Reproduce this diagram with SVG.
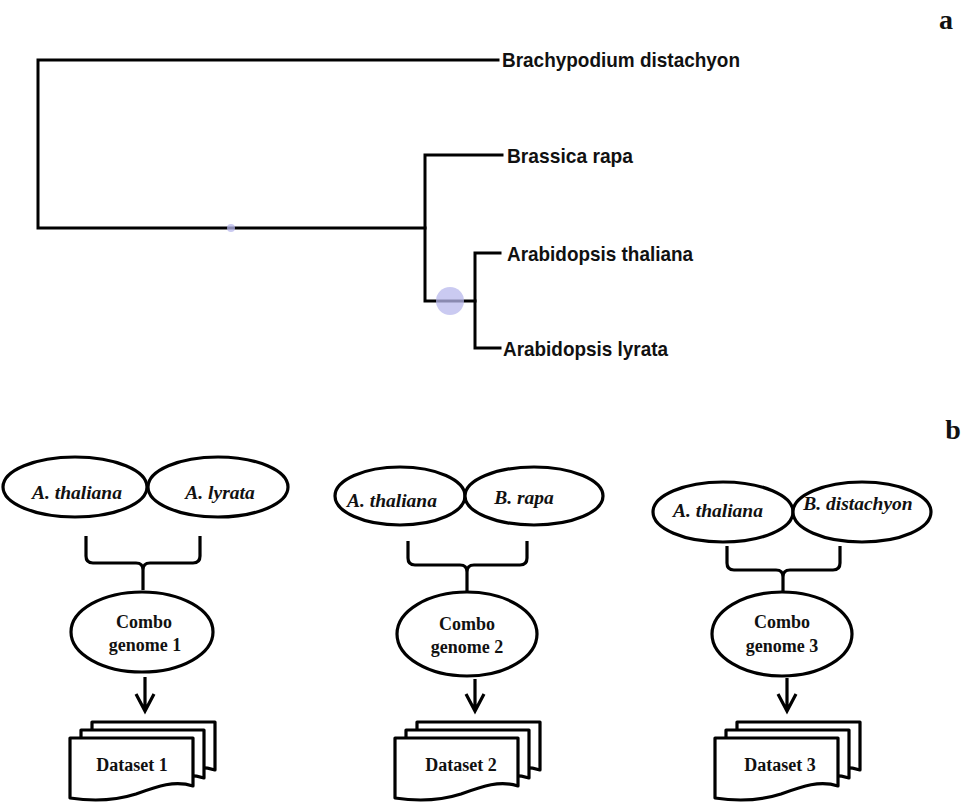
<svg xmlns="http://www.w3.org/2000/svg" width="964" height="805" viewBox="0 0 964 805">
<style>
.tl{fill:none;stroke:#000;stroke-width:3;stroke-linecap:square}
.lab{font-family:"Liberation Sans",Arial,sans-serif;font-weight:bold;font-size:21px;fill:#111}
.pl{font-family:"Liberation Serif","Times New Roman",serif;font-weight:bold;font-size:28px;fill:#111}
.ell{fill:#fff;stroke:#000;stroke-width:3.2}
.sp{font-family:"Liberation Serif","Times New Roman",serif;font-weight:bold;font-style:italic;font-size:19.5px;fill:#111;text-anchor:middle}
.cb{font-family:"Liberation Serif","Times New Roman",serif;font-weight:bold;font-size:18px;fill:#111;text-anchor:middle}
.doc{fill:#fff;stroke:#000;stroke-width:3.2;stroke-linejoin:round}
.con{fill:none;stroke:#000;stroke-width:3.2}
.bub{fill:#b8b8ec;opacity:0.75}
</style>
<rect width="964" height="805" fill="#fff"/>
<defs>
<path id="docshape" d="M0,0 H123 V48 C105,42 88,48 66,56 C44,63 20,63 0,60 Z"/>
</defs>
<text class="pl" x="946" y="29" text-anchor="middle">a</text>
<text class="pl" x="953" y="439" text-anchor="middle">b</text>

<g id="tree-connectors">
<path class="tl" d="M498,60 H38 V228 H425"/>
<path class="tl" d="M502,155 H425 V301 H475"/>
<path class="tl" d="M500,253 H475 V348 H500"/>
<circle class="bub" cx="450" cy="301" r="14"/>
<circle class="bub" cx="231" cy="228" r="4"/>
</g>
<g id="leaf-brachypodium"><text class="lab" x="502" y="67" textLength="238" lengthAdjust="spacingAndGlyphs">Brachypodium distachyon</text></g>
<g id="leaf-brassica"><text class="lab" x="507" y="163" textLength="126" lengthAdjust="spacingAndGlyphs">Brassica rapa</text></g>
<g id="leaf-athaliana"><text class="lab" x="507" y="261" textLength="186" lengthAdjust="spacingAndGlyphs">Arabidopsis thaliana</text></g>
<g id="leaf-alyrata"><text class="lab" x="503" y="356" textLength="165" lengthAdjust="spacingAndGlyphs">Arabidopsis lyrata</text></g>

<g id="connectors">
<path class="con" d="M86,536 V556 Q86,563 93,563 H136 Q143,563 143,570 V590 M200,536 V556 Q200,563 193,563 H150 Q143,563 143,570"/>
<path class="con" d="M145,677 V710 M136,694 L145,711 L154,694"/>
<path class="con" d="M408,541 V558 Q408,565 415,565 H460 Q467,565 467,572 V592 M527,541 V558 Q527,565 520,565 H474 Q467,565 467,572"/>
<path class="con" d="M475,679 V710 M466,694 L475,711 L484,694"/>
<path class="con" d="M727,546 V563 Q727,570 734,570 H776 Q783,570 783,577 V593 M840,546 V563 Q840,570 833,570 H790 Q783,570 783,577"/>
<path class="con" d="M787,678 V710 M778,694 L787,711 L796,694"/>
</g>

<g id="g1-athaliana"><ellipse class="ell" cx="75" cy="487" rx="72" ry="30"/><text class="sp" x="77" y="499">A. thaliana</text></g>
<g id="g1-alyrata"><ellipse class="ell" cx="218" cy="487" rx="70" ry="30"/><text class="sp" x="220" y="499">A. lyrata</text></g>
<g id="g1-combo"><ellipse class="ell" cx="142" cy="632" rx="71" ry="40"/><text class="cb" x="144" y="628">Combo</text><text class="cb" x="145" y="651">genome 1</text></g>
<g id="g1-dataset"><use href="#docshape" class="doc" x="92" y="722"/><use href="#docshape" class="doc" x="81" y="730"/><use href="#docshape" class="doc" x="70" y="738"/><text class="cb" x="132" y="771">Dataset 1</text></g>

<g id="g2-athaliana"><ellipse class="ell" cx="400" cy="496" rx="65" ry="29"/><text class="sp" x="392" y="507">A. thaliana</text></g>
<g id="g2-brapa"><ellipse class="ell" cx="534" cy="496" rx="69" ry="29"/><text class="sp" x="524" y="504">B. rapa</text></g>
<g id="g2-combo"><ellipse class="ell" cx="467" cy="634" rx="70" ry="42"/><text class="cb" x="467" y="630">Combo</text><text class="cb" x="467" y="653">genome 2</text></g>
<g id="g2-dataset"><use href="#docshape" class="doc" x="417" y="722"/><use href="#docshape" class="doc" x="406" y="730"/><use href="#docshape" class="doc" x="395" y="738"/><text class="cb" x="461" y="771">Dataset 2</text></g>

<g id="g3-athaliana"><ellipse class="ell" cx="723" cy="512" rx="70" ry="30"/><text class="sp" x="718" y="517">A. thaliana</text></g>
<g id="g3-bdistachyon"><ellipse class="ell" cx="862" cy="512" rx="69" ry="30"/><text class="sp" x="858" y="510">B. distachyon</text></g>
<g id="g3-combo"><ellipse class="ell" cx="782" cy="634" rx="70" ry="42"/><text class="cb" x="782" y="628">Combo</text><text class="cb" x="782" y="652">genome 3</text></g>
<g id="g3-dataset"><use href="#docshape" class="doc" x="737" y="722"/><use href="#docshape" class="doc" x="726" y="730"/><use href="#docshape" class="doc" x="715" y="738"/><text class="cb" x="780" y="771">Dataset 3</text></g>
</svg>
